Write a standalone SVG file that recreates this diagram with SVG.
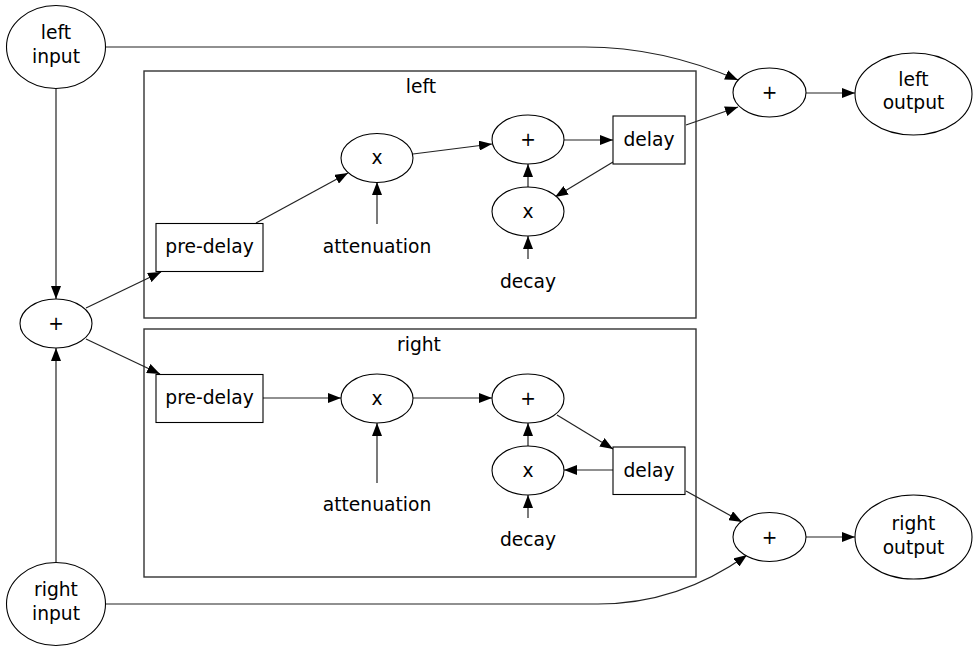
<svg xmlns="http://www.w3.org/2000/svg" width="979" height="651" viewBox="0 0 979 651">
<style>
text{font-family:"DejaVu Sans",Verdana,sans-serif;font-size:18.7px;fill:#000;text-anchor:middle}
.n{fill:#fff;stroke:#000;stroke-width:1.1}
.cl{fill:none;stroke:#333;stroke-width:1.4}
.e{fill:none;stroke:#222;stroke-width:1.2}
</style>
<defs>
<marker id="ah" markerUnits="userSpaceOnUse" viewBox="0 0 13 10" refX="13" refY="5" markerWidth="13" markerHeight="10" orient="auto">
<path d="M0,0 L13,5 L0,10 z" fill="#000"/>
</marker>
</defs>
<rect width="979" height="651" fill="#fff"/>
<g id="cluster_left">
<rect class="cl" x="144" y="71" width="552" height="247"/>
<text x="421" y="93">left</text>
</g>
<g id="cluster_right">
<rect class="cl" x="144" y="329" width="552" height="248"/>
<text x="419" y="351">right</text>
</g>
<g id="edges">
<path class="e" d="M105,47 L585,47 C642,47 692,60 738,80" marker-end="url(#ah)"/>
<path class="e" d="M56,88 L56,299" marker-end="url(#ah)"/>
<path class="e" d="M56,562 L56,348" marker-end="url(#ah)"/>
<path class="e" d="M86,308 L161,272" marker-end="url(#ah)"/>
<path class="e" d="M86,339 L160,374" marker-end="url(#ah)"/>
<path class="e" d="M256,223 L348,173" marker-end="url(#ah)"/>
<path class="e" d="M413,154 L492,144" marker-end="url(#ah)"/>
<path class="e" d="M564,140 L613,140" marker-end="url(#ah)"/>
<path class="e" d="M613,162 L555,197" marker-end="url(#ah)"/>
<path class="e" d="M528,188 L528,164" marker-end="url(#ah)"/>
<path class="e" d="M528,259 L528,236" marker-end="url(#ah)"/>
<path class="e" d="M377,224 L377,182" marker-end="url(#ah)"/>
<path class="e" d="M686,125 L738,107" marker-end="url(#ah)"/>
<path class="e" d="M806,93 L855,93" marker-end="url(#ah)"/>
<path class="e" d="M263,398 L341,398" marker-end="url(#ah)"/>
<path class="e" d="M413,398 L492,398" marker-end="url(#ah)"/>
<path class="e" d="M557,415 L613,449" marker-end="url(#ah)"/>
<path class="e" d="M613,470 L564,470" marker-end="url(#ah)"/>
<path class="e" d="M528,446 L528,423" marker-end="url(#ah)"/>
<path class="e" d="M528,518 L528,495" marker-end="url(#ah)"/>
<path class="e" d="M377,483 L377,423" marker-end="url(#ah)"/>
<path class="e" d="M686,491 L742,522" marker-end="url(#ah)"/>
<path class="e" d="M105,604 L598,604 C655,604 705,585 747,555" marker-end="url(#ah)"/>
<path class="e" d="M806,537 L855,537" marker-end="url(#ah)"/>
</g>
<g id="left_input"><ellipse class="n" cx="56" cy="47" rx="49.5" ry="41.5"/><text x="56" y="39">left</text><text x="56" y="63">input</text></g>
<g id="right_input"><ellipse class="n" cx="56" cy="604" rx="49.5" ry="41.5"/><text x="56" y="596">right</text><text x="56" y="620">input</text></g>
<g id="mix_plus"><ellipse class="n" cx="56" cy="323.5" rx="36" ry="24.5"/><text x="56" y="330">+</text></g>
<g id="l_predelay"><rect class="n" x="156" y="223.5" width="107" height="48"/><text x="209.5" y="253">pre-delay</text></g>
<g id="l_mul"><ellipse class="n" cx="377" cy="158" rx="36" ry="24.5"/><text x="377" y="164">x</text></g>
<g id="l_att"><text x="377" y="253">attenuation</text></g>
<g id="l_plus"><ellipse class="n" cx="528" cy="139.5" rx="36" ry="24.5"/><text x="528" y="146">+</text></g>
<g id="l_delay"><rect class="n" x="613" y="116" width="72" height="48"/><text x="649" y="146">delay</text></g>
<g id="l_dmul"><ellipse class="n" cx="528" cy="211.5" rx="36" ry="24.5"/><text x="528" y="217.5">x</text></g>
<g id="l_decay"><text x="528" y="288">decay</text></g>
<g id="r_predelay"><rect class="n" x="156" y="374.5" width="107" height="48"/><text x="209.5" y="404">pre-delay</text></g>
<g id="r_mul"><ellipse class="n" cx="377" cy="398.5" rx="36" ry="24.5"/><text x="377" y="404.5">x</text></g>
<g id="r_att"><text x="377" y="511">attenuation</text></g>
<g id="r_plus"><ellipse class="n" cx="528" cy="398.5" rx="36" ry="24.5"/><text x="528" y="405">+</text></g>
<g id="r_delay"><rect class="n" x="613" y="447" width="72" height="47.5"/><text x="649" y="476.5">delay</text></g>
<g id="r_dmul"><ellipse class="n" cx="528" cy="470.5" rx="36" ry="24.5"/><text x="528" y="476.5">x</text></g>
<g id="r_decay"><text x="528" y="546">decay</text></g>
<g id="l_out_plus"><ellipse class="n" cx="769.5" cy="92.5" rx="36.5" ry="24.5"/><text x="769.5" y="99">+</text></g>
<g id="left_output"><ellipse class="n" cx="913.5" cy="94" rx="58.5" ry="41"/><text x="913.5" y="86">left</text><text x="913.5" y="109">output</text></g>
<g id="r_out_plus"><ellipse class="n" cx="769.5" cy="537" rx="36.5" ry="24.5"/><text x="769.5" y="543.5">+</text></g>
<g id="right_output"><ellipse class="n" cx="913.5" cy="537" rx="58.5" ry="42"/><text x="913.5" y="530">right</text><text x="913.5" y="554">output</text></g>
</svg>
